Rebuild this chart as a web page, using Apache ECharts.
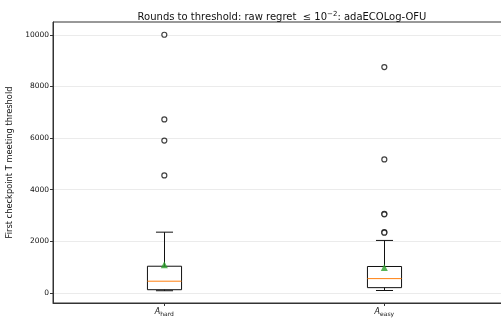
<!DOCTYPE html>
<html>
<head>
<meta charset="utf-8">
<script src="https://cdn.jsdelivr.net/npm/echarts@6/dist/echarts.min.js"></script>
<style>
  html, body { margin: 0; padding: 0; background: #fff; }
  #main { width: 501px; height: 319px; }
</style>
</head>
<body>
<div id="main"></div>
<script>
// data
var categories = ['hard', 'easy'];
var positions = [1, 2];
// [whisker low, Q1, median, Q3, whisker high]
var boxStats = [
  [80, 120, 450, 1030, 2350],
  [90, 200, 550, 1020, 2030]
];
var means = [1090, 980];
var outliersHard = [10000, 6720, 5900, 4550];
var outliersEasy = [8750, 5170, 3060, 3040, 2350, 2330];
var yTicks = [0, 2000, 4000, 6000, 8000, 10000];

var chartDom = document.getElementById('main');
var myChart = echarts.init(chartDom);
var option;

var font = 'DejaVu Sans';
var boxWidth = 0.155;

var boxData = boxStats.map(function (s, i) {
  return [positions[i]].concat(s);
});
var outlierData = [];
outliersHard.forEach(function (v) { outlierData.push([positions[0], v]); });
outliersEasy.forEach(function (v) { outlierData.push([positions[1], v]); });
var meanData = means.map(function (v, i) { return [positions[i], v]; });

function renderBox(params, api) {
  var x = api.value(0);
  var lo = api.coord([x, api.value(1)]);
  var q1 = api.coord([x, api.value(2)]);
  var med = api.coord([x, api.value(3)]);
  var q3 = api.coord([x, api.value(4)]);
  var hi = api.coord([x, api.value(5)]);
  var w = api.size([boxWidth, 0])[0];
  var cx = Math.round(lo[0]) + 0.5;
  var line = { stroke: '#111', lineWidth: 1 };
  return {
    type: 'group',
    children: [
      { type: 'line', shape: { x1: cx, y1: q1[1], x2: cx, y2: lo[1] }, style: line },
      { type: 'line', shape: { x1: cx, y1: q3[1], x2: cx, y2: hi[1] }, style: line },
      { type: 'line', shape: { x1: cx - w / 4, y1: lo[1], x2: cx + w / 4, y2: lo[1] }, style: line },
      { type: 'line', shape: { x1: cx - w / 4, y1: hi[1], x2: cx + w / 4, y2: hi[1] }, style: line },
      { type: 'rect', shape: { x: cx - w / 2, y: q3[1], width: w, height: q1[1] - q3[1] },
        style: { fill: 'none', stroke: '#111', lineWidth: 1 } },
      { type: 'line', shape: { x1: cx - w / 2, y1: med[1], x2: cx + w / 2, y2: med[1] },
        style: { stroke: '#ff7f0e', lineWidth: 1 } }
    ]
  };
}

option = {
  animation: false,
  title: {
    text: 'Rounds to threshold: raw regret  ≤ 10{sup|−2}: adaECOLog-OFU',
    left: 277,
    top: 6,
    textAlign: 'center',
    textStyle: {
      fontFamily: font,
      fontSize: 10,
      fontWeight: 'normal',
      color: '#111',
      rich: {
        sup: { fontFamily: font, fontSize: 7, color: '#111', padding: [0, 0, 6, 0] }
      }
    }
  },
  grid: {
    left: 53,
    right: -5,
    top: 22,
    bottom: 16,
    outerBoundsMode: 'none',
    containLabel: false,
    show: true,
    borderColor: '#333',
    borderWidth: 1
  },
  xAxis: {
    type: 'value',
    min: 0.494,
    max: 0.494 + 453 / 220,
    axisLine: { show: true, onZero: false, lineStyle: { color: '#333' } },
    splitLine: { show: false },
    axisTick: { show: true, length: 3, customValues: positions, lineStyle: { color: '#333' } },
    axisLabel: {
      customValues: positions,
      margin: 3,
      formatter: function (v) {
        var i = positions.indexOf(v);
        return '{a|A}{s|' + categories[i] + '}';
      },
      rich: {
        a: { fontFamily: font, fontSize: 8, fontStyle: 'italic', color: '#111' },
        s: { fontFamily: font, fontSize: 6, color: '#111', padding: [5, 0, 0, 0] }
      }
    }
  },
  yAxis: {
    type: 'value',
    min: -395,
    max: 10495,
    name: 'First checkpoint T meeting threshold',
    nameLocation: 'middle',
    nameGap: 39,
    nameMoveOverlap: false,
    nameTextStyle: { fontFamily: font, fontSize: 8.3, color: '#111' },
    axisLine: { show: true, onZero: false, lineStyle: { color: '#333' } },
    axisTick: { show: true, length: 3, customValues: yTicks, lineStyle: { color: '#333' } },
    axisLabel: {
      customValues: yTicks,
      margin: 4,
      fontFamily: font,
      fontSize: 7.5,
      color: '#111',
      formatter: function (v) { return String(v); }
    },
    splitLine: { show: true, lineStyle: { color: '#ebebeb', width: 1 } }
  },
  series: [
    {
      type: 'custom',
      renderItem: renderBox,
      data: boxData,
      encode: { x: 0, y: [1, 2, 3, 4, 5] },
      z: 3
    },
    {
      type: 'scatter',
      data: outlierData,
      symbol: 'circle',
      symbolSize: 5,
      itemStyle: { color: '#fff', borderColor: '#111', borderWidth: 1.2 },
      z: 4
    },
    {
      type: 'scatter',
      data: meanData,
      symbol: 'triangle',
      symbolSize: 7,
      itemStyle: { color: '#2ca02c' },
      z: 5
    }
  ]
};
myChart.setOption(option);
</script>
</body>
</html>
